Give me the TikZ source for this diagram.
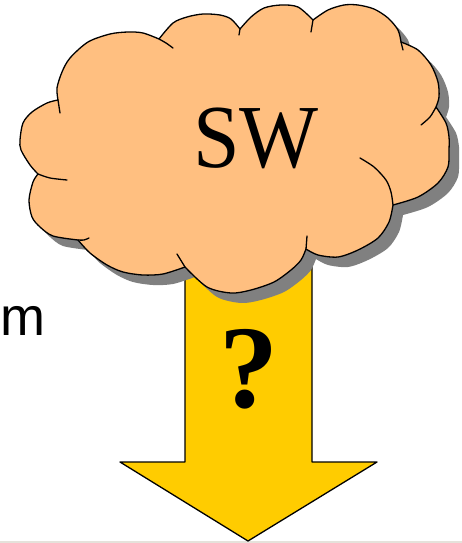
\documentclass[tikz,border=0pt]{standalone}
\usepackage{fontspec}
\setmainfont{Liberation Serif}
\newfontfamily\labelsans{Liberation Sans}
\definecolor{puff}{RGB}{255,191,128}
\definecolor{arrowfill}{RGB}{255,204,0}
\definecolor{dropshadow}{RGB}{128,128,128}
\definecolor{slidefloor}{RGB}{229,226,219}
\tikzset{
  edge/.style={draw=black,line width=1.3pt,line join=round},
  tick/.style={draw=black,line width=1.3pt,line cap=round},
}

\begin{document}
\begin{tikzpicture}[x=1pt,y=-1pt]
%
\useasboundingbox (0,0) rectangle (462,543);
\fill[slidefloor] (0,541) rectangle (462,543);
%
% outer rim of the cloud, one smooth run per puff
\def\cloudpath{(58,100)
  -- plot[smooth] coordinates {(58,100) (57,88) (62,72) (70,58) (88,42) (110,34) (128,32) (143,33) (159,39)}
  -- plot[smooth] coordinates {(159,39) (173,23) (187,17) (203,14) (220,15) (231,19) (240,29)}
  -- plot[smooth] coordinates {(240,29) (251,17) (264,8) (281,5) (298,7) (313,20)}
  -- plot[smooth] coordinates {(313,20) (328,10) (344,5) (358,5) (374,9) (388,18) (398,30) (401,42)}
  -- plot[smooth] coordinates {(401,42) (418,50) (431,65) (438,82) (439,97) (436,107)}
  -- plot[smooth] coordinates {(436,107) (446,123) (449,137) (449,150) (448,167) (438,183) (418,197) (393,205)}
  -- plot[smooth] coordinates {(393,205) (389,222) (378,238) (358,250) (338,257) (318,255) (306,249)}
  -- plot[smooth] coordinates {(306,249) (301,260) (291,270) (274,282) (251,290) (231,293) (207,287) (185,267)}
  -- plot[smooth] coordinates {(185,267) (163,274) (143,275) (123,272) (107,265) (90,253) (78,240)}
  -- plot[smooth] coordinates {(78,240) (53,236) (40,227) (32,217) (29,200) (33,182) (38,174)}
  -- plot[smooth] coordinates {(38,174) (30,165) (21,150) (20,140) (23,123) (32,112) (47,103) (58,100)}
  -- cycle}
%
% block arrow going down
\draw[edge,fill=arrowfill] (185,250) -- (185,462) -- (120,462) -- (248,541)
  -- (377,462) -- (312,462) -- (312,250) -- cycle;
%
\fill[dropshadow,shift={(10,10)}] \cloudpath;
\draw[edge,fill=puff] \cloudpath;
%
% puff ends running into the cloud
\draw[tick] (58,100) -- (60,113)
  plot[smooth] coordinates {(159,39) (166,43) (173,48)}
  (240,29) -- (239,35)
  (313,20) -- (311,32)
  (401,42) -- (403,50)
  plot[smooth] coordinates {(436,107) (430,117) (421,125)}
  plot[smooth] coordinates {(393,205) (391,192) (386,180) (374,167) (360,158)}
  (306,249) -- (307,236)
  (185,267) -- (177,254)
  plot[smooth] coordinates {(78,240) (84,240) (89,238)}
  plot[smooth] coordinates {(38,174) (50,178) (67,180)};
%
\node[anchor=base,inner sep=0pt,xscale=0.93,font=\fontsize{90}{90}\selectfont] (sw) at (256,167) {SW};
\node[anchor=base,inner sep=0pt,font=\fontsize{118}{118}\selectfont\bfseries] (ask) at (249,407) {?};
\node[anchor=base west,inner sep=0pt,font=\labelsans\fontsize{54}{54}\selectfont] (m) at (0,335) {m};
%
\end{tikzpicture}
\end{document}
